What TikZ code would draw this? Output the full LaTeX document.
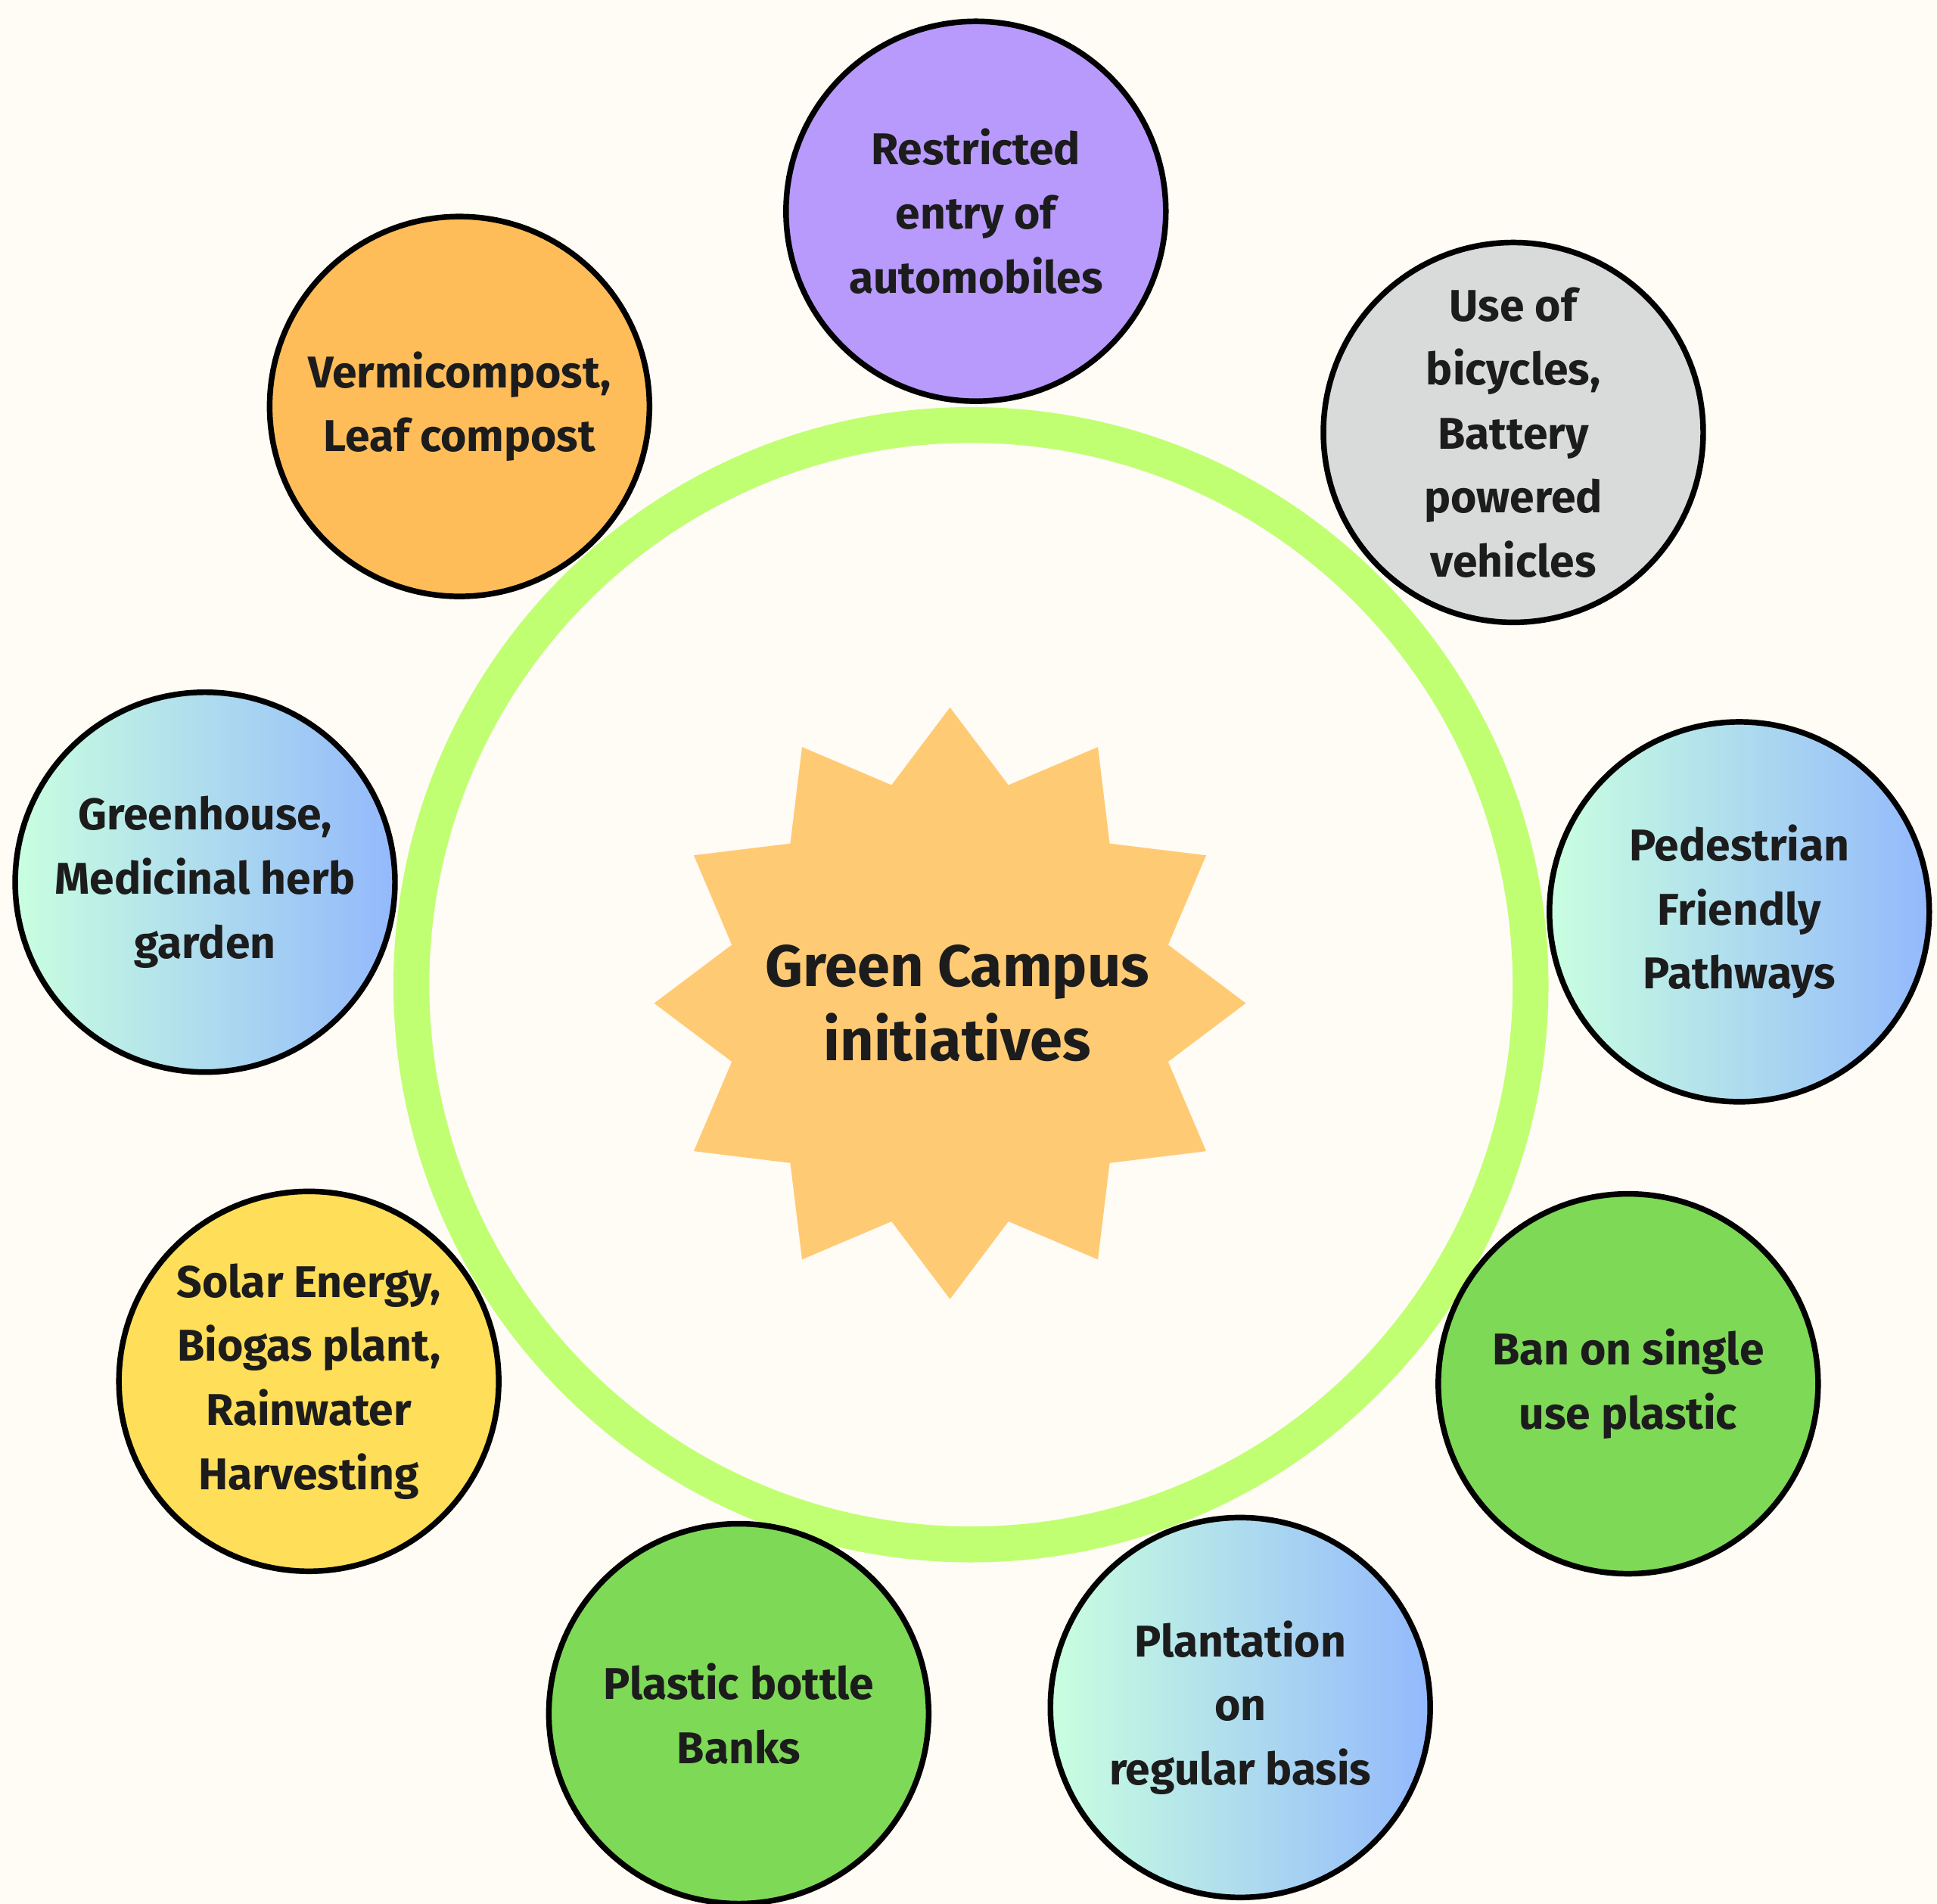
\documentclass[tikz,border=0pt]{standalone}
\usepackage{fontspec}
\setmainfont{Fira Sans}
\usetikzlibrary{shapes.geometric}

\definecolor{paper}{HTML}{FFFBF5}
\definecolor{ink}{HTML}{1C1C1C}
\definecolor{lime}{HTML}{C1FF72}
\definecolor{sunny}{HTML}{FFCA74}
\definecolor{lilac}{HTML}{B899FC}
\definecolor{ash}{HTML}{D9DBDA}
\definecolor{mint}{HTML}{C9FFE0}
\definecolor{sky}{HTML}{93B9FC}
\definecolor{leaf}{HTML}{7ED957}
\definecolor{lemon}{HTML}{FFDE59}
\definecolor{peach}{HTML}{FFBD59}

\begin{document}
\begin{tikzpicture}[x=0.02cm, y=-0.02cm,
                        idea/.style={circle, draw=black, line width=2.6pt, minimum size=6.15cm, inner sep=0pt,
                                     align=center, text=ink, font=\fontsize{20.5}{29.5}\selectfont\bfseries},
                        cool/.style={idea, left color=mint, right color=sky}]

                        % Background and outer ring
                        \fill[paper] (0,0) rectangle (1568,1541);
                        \useasboundingbox (0,0) rectangle (1568,1541);
                        \coordinate (O) at (786,797);
                        \draw[lime, line width=0.58cm] (O) circle[radius=453];

                        % Centre star
                        \node[star, star points=12, star point ratio=1.31, minimum size=9.58cm, inner sep=0pt,
                              fill=sunny] (hub) at (769,812) {};
                        \node[text=ink, align=center, font=\fontsize{27}{34}\selectfont\bfseries]
                              (title) at (775,812) {Green Campus\\initiatives};

                        % Define nodes
                        \node[idea, fill=lilac] (A) at (790,171) {Restricted\\entry of\\automobiles}; % top
                        \node[idea, fill=ash] (B) at (1225,350) {Use of\\bicycles,\\Battery\\powered\\vehicles};
                        \node[cool] (C) at (1408,738) {Pedestrian\\Friendly\\Pathways};
                        \node[idea, fill=leaf] (D) at (1318,1120) {Ban on single\\use plastic};
                        \node[cool] (E) at (1004,1382) {Plantation\\on\\regular basis};
                        \node[idea, fill=leaf] (F) at (598,1387) {Plastic bottle\\Banks};
                        \node[idea, fill=lemon] (G) at (250,1118) {Solar Energy,\\Biogas plant,\\Rainwater\\Harvesting};
                        \node[cool] (H) at (166,714) {Greenhouse,\\Medicinal herb\\garden};
                        \node[idea, fill=peach] (I) at (372,329) {Vermicompost,\\Leaf compost}; % top left
                        \end{tikzpicture}
\end{document}
